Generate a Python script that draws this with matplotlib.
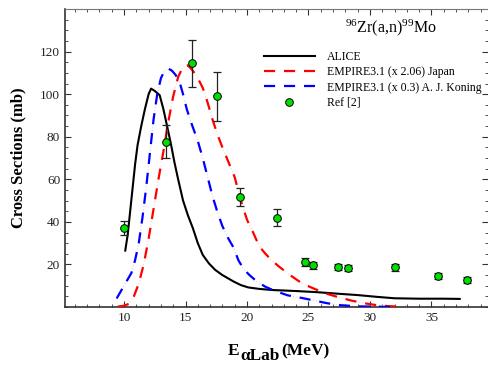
import matplotlib
matplotlib.use("Agg")
import matplotlib.pyplot as plt
from matplotlib.ticker import MultipleLocator, FixedLocator

plt.rcParams['font.family'] = ['Liberation Serif', 'DejaVu Serif']
plt.rcParams['mathtext.fontset'] = 'custom'
plt.rcParams['mathtext.rm'] = 'Liberation Serif'
plt.rcParams['mathtext.it'] = 'Liberation Serif:italic'
plt.rcParams['mathtext.bf'] = 'Liberation Serif:bold'

# ALICE
alice_x = [10.1, 10.3, 10.5, 10.7, 10.9, 11.1, 11.4, 11.7, 12.0, 12.2, 12.5, 12.9, 13.2, 13.5, 13.8, 14.1,
           14.4, 14.8, 15.2, 15.6, 16.0, 16.4, 16.9, 17.4, 18.0, 18.9, 19.5, 20.1, 21.0, 22.0, 24.0, 25.6,
           27.5, 29.0, 30.5, 32.0, 34.0, 36.0, 37.3]
alice_y = [26.5, 34.0, 45.0, 56.0, 67.0, 76.0, 85.0, 93.0, 100.0, 102.6, 101.5, 99.5, 93.0, 85.0, 77.0, 68.0,
           60.0, 50.0, 43.0, 37.0, 30.0, 24.5, 20.5, 17.5, 15.0, 12.0, 10.3, 9.2, 8.5, 8.0, 7.5, 7.0,
           6.2, 5.6, 4.8, 4.1, 3.9, 3.9, 3.8]
# EMPIRE3.1 (x 2.06) Japan
jap_x = [9.5, 10.0, 10.4, 10.8, 11.2, 11.6, 12.0, 12.4, 12.8, 13.2, 13.6, 14.0, 14.4, 14.8, 15.2, 15.6, 16.0,
         16.4, 16.8, 17.2, 17.6, 18.0, 18.5, 19.0, 19.5, 20.0, 20.5, 21.0, 21.5, 22.0, 22.6, 23.5, 24.5,
         25.5, 26.5, 27.5, 28.5, 29.5, 30.5, 31.5, 32.9]
jap_y = [0.2, 0.6, 1.5, 5.0, 11.0, 20.0, 32.0, 46.0, 60.0, 73.0, 87.0, 99.0, 108.0, 113.0, 113.5, 111.0, 107.5,
         103.0, 96.0, 88.0, 81.0, 75.0, 68.0, 61.0, 50.0, 41.0, 35.0, 28.5, 25.0, 22.0, 19.0, 15.0, 11.0,
         8.5, 6.2, 4.5, 3.0, 1.8, 0.9, 0.4, 0.1]
# EMPIRE3.1 (x 0.3) A. J. Koning
kon_x = [9.4, 9.8, 10.2, 10.6, 10.9, 11.2, 11.5, 11.8, 12.1, 12.4, 12.7, 13.0, 13.3, 13.6, 13.9, 14.2, 14.5,
         14.8, 15.1, 15.5, 16.0, 16.4, 16.8, 17.2, 17.6, 18.0, 18.5, 18.9, 19.3, 19.7, 20.2, 20.8, 21.5,
         22.3, 23.3, 24.5, 25.5, 26.5, 27.5, 29.0, 32.1]
kon_y = [4.0, 8.0, 12.0, 16.0, 22.0, 30.0, 42.0, 56.0, 72.0, 88.0, 100.0, 107.5, 111.0, 112.0, 111.0, 109.0, 106.0,
         100.0, 93.0, 86.0, 78.0, 70.0, 61.0, 52.0, 44.5, 38.0, 32.0, 28.0, 22.0, 18.0, 15.0, 12.0, 9.5,
         7.5, 5.5, 4.2, 3.0, 1.8, 0.9, 0.3, 0.0]
# Ref [2]
ref_x = [10.0, 13.45, 15.55, 17.6, 19.4, 22.45, 24.7, 25.4, 27.4, 28.2, 32.0, 35.5, 37.9]
ref_y = [37.0, 77.7, 114.5, 98.9, 51.6, 42.0, 21.0, 19.6, 18.7, 18.3, 18.7, 14.6, 12.7]
ref_err = [3.4, 7.6, 11.1, 11.5, 4.1, 4.0, 1.8, 1.6, 1.5, 1.5, 1.6, 1.6, 1.5]

xticks = [10, 15, 20, 25, 30, 35]
yticks = [20, 40, 60, 80, 100, 120]

W, H = 489, 365
fig = plt.figure(figsize=(W/100, H/100), dpi=100)
ax = fig.add_axes([65/W, 1-307/H, 423/W, 298/H])

ax.plot(alice_x, alice_y, color='black', lw=1.5, label='ALICE', zorder=3)
ax.plot(jap_x, jap_y, color='#ffd0d0', lw=0.8, ls=(0, (1, 2)), zorder=2)
ax.plot(kon_x, kon_y, color='#d0d0ff', lw=0.8, ls=(0, (1, 2)), zorder=2)
ax.plot(jap_x, jap_y, color='#ff0000', lw=1.6, dashes=(5, 4), label='EMPIRE3.1 (x 2.06) Japan', zorder=3)
ax.plot(kon_x, kon_y, color='#0000ff', lw=1.6, dashes=(5, 4), label='EMPIRE3.1 (x 0.3) A. J. Koning', zorder=3)
ax.errorbar(ref_x, ref_y, yerr=ref_err, fmt='none', ecolor='#222222', elinewidth=0.9, capsize=3.2, capthick=0.9, zorder=4)
ax.plot(ref_x, ref_y, 'o', ms=5.5, mfc='#00e000', mec='black', mew=0.7, ls='none', label='Ref [2]', zorder=5)

ax.set_xlim(5.2, 39.6)
ax.set_ylim(0, 140)
ax.xaxis.set_major_locator(FixedLocator(xticks))
ax.xaxis.set_minor_locator(MultipleLocator(1))
ax.yaxis.set_major_locator(FixedLocator(yticks))
ax.yaxis.set_minor_locator(MultipleLocator(5))
ax.tick_params(which='both', direction='in', top=True, right=True, labelsize=9.5, colors='#333333', labelcolor='#222222')
ax.tick_params(which='major', length=4, width=0.8)
ax.tick_params(which='minor', length=2, width=0.6)
for s in ['left', 'bottom']:
    ax.spines[s].set_linewidth(1.2)
    ax.spines[s].set_color('#333333')
ax.spines['top'].set_color('#777777')
ax.spines['top'].set_linewidth(0.8)
ax.spines['right'].set_color('#cccccc')
ax.spines['right'].set_linewidth(0.6)

# y label
ax.text((18-65)/423, 0.5, 'Cross Sections (mb)', transform=ax.transAxes, rotation=90,
        ha='center', va='center', fontsize=12, fontweight='bold')

# x label in pieces: E, subscript αLab, (MeV)
def fx(px):
    return px / W
def fy(py):
    return 1 - py / H
fig.text(fx(228), fy(355), 'E', fontsize=12.5, fontweight='bold', ha='left', va='baseline')
fig.text(fx(240.5), fy(360), 'αLab', fontsize=12.5, fontweight='bold', ha='left', va='baseline')
fig.text(fx(281.5), fy(355), '(MeV)', fontsize=12.5, fontweight='bold', ha='left', va='baseline')

ax.text(0.771, 0.936, r'$^{96}$Zr(a,n)$^{99}$Mo', transform=ax.transAxes, ha='center', va='center', fontsize=11.5)

ax.legend(loc='upper left', bbox_to_anchor=((264-65)/423, (307-51)/298), frameon=False,
          fontsize=8.5, handlelength=4.3, handletextpad=1.0, labelspacing=0.28,
          borderpad=0, borderaxespad=0)

fig.savefig('out.png', dpi=100)
